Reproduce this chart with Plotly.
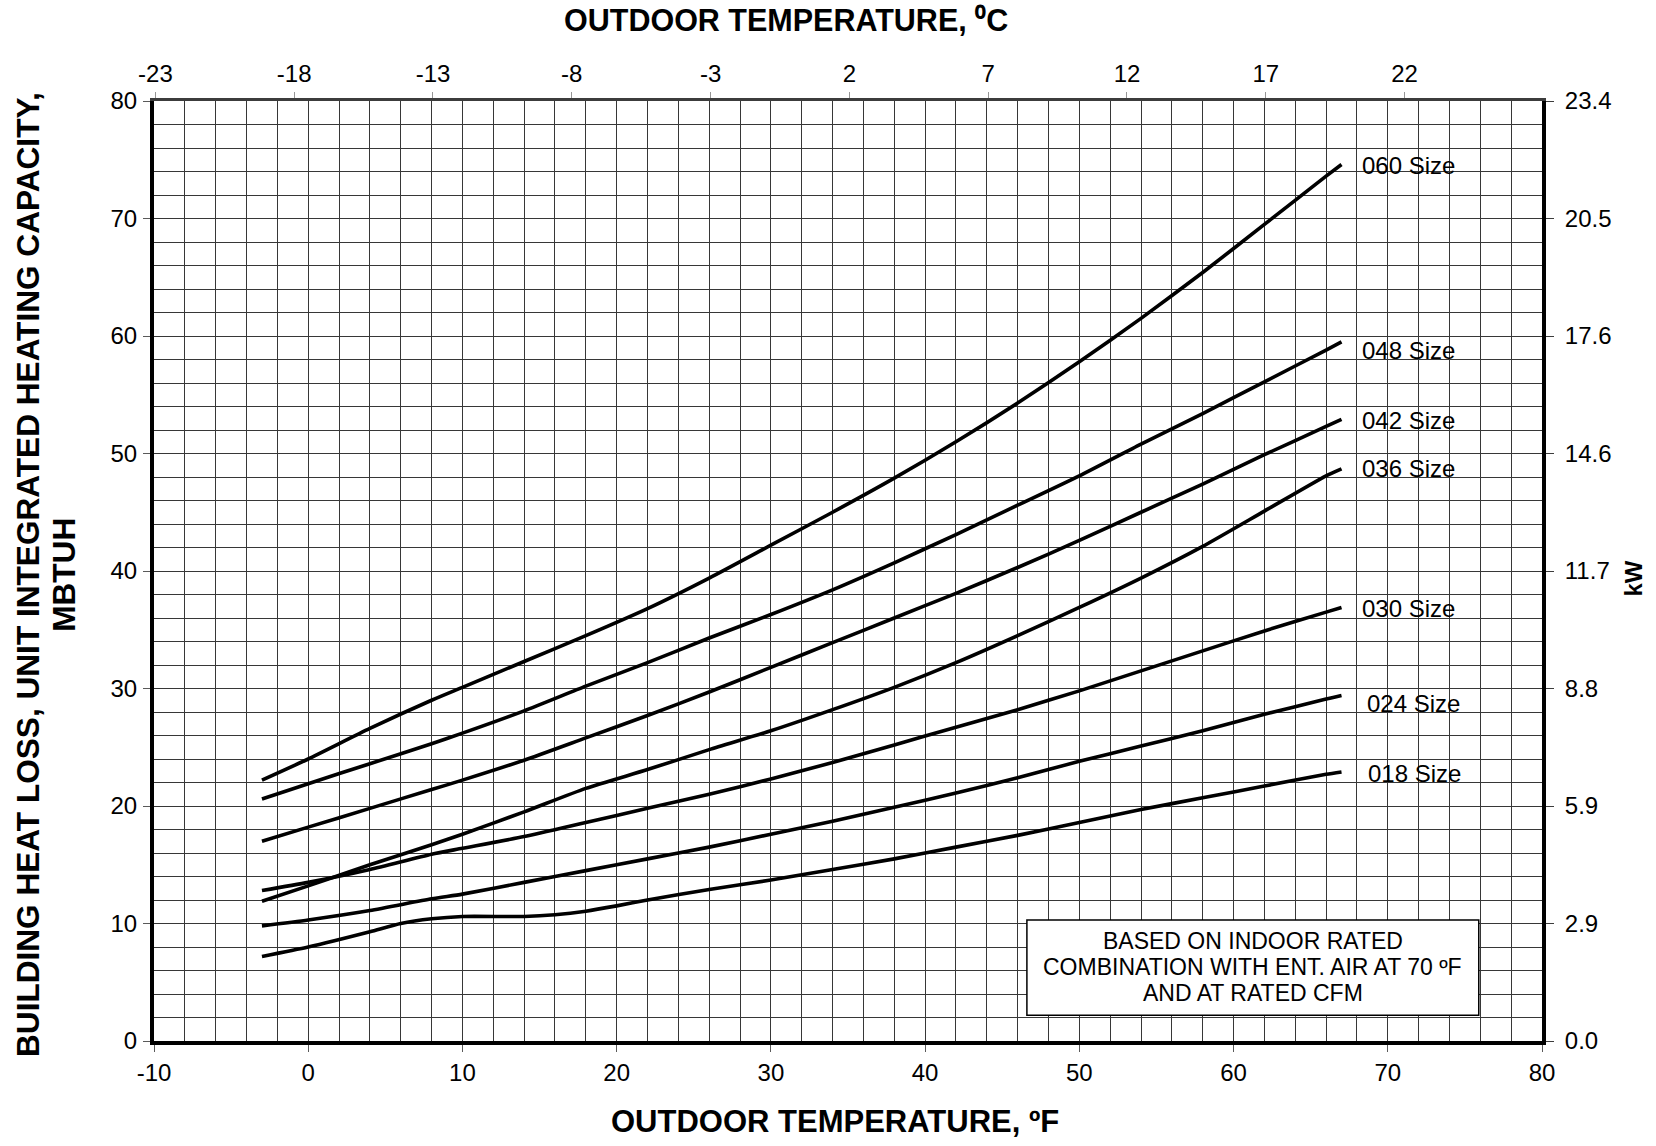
import plotly.graph_objects as go

# ---------------- data ----------------
temp_f = [-3, 0, 4, 8, 10, 14, 18, 22, 26, 30, 34, 38, 42, 46, 50, 54, 58, 62, 66, 67]
cap_060 = [22.2, 24.0, 26.6, 29.0, 30.1, 32.3, 34.5, 36.8, 39.4, 42.2, 45.0, 47.9, 51.0, 54.3, 57.8, 61.5, 65.4, 69.5, 73.6, 74.6]
cap_048 = [20.6, 21.9, 23.6, 25.3, 26.2, 28.1, 30.2, 32.2, 34.3, 36.3, 38.4, 40.7, 43.1, 45.6, 48.1, 50.8, 53.4, 56.1, 58.8, 59.5]
cap_042 = [17.0, 18.2, 19.8, 21.4, 22.2, 23.9, 25.8, 27.7, 29.7, 31.8, 33.9, 36.0, 38.1, 40.3, 42.6, 45.0, 47.4, 49.9, 52.3, 52.9]
cap_036 = [11.9, 13.2, 15.0, 16.7, 17.6, 19.5, 21.5, 23.1, 24.8, 26.4, 28.2, 30.1, 32.2, 34.5, 36.9, 39.4, 42.1, 45.1, 48.1, 48.7]
cap_030 = [12.8, 13.5, 14.6, 15.9, 16.4, 17.4, 18.6, 19.8, 21.0, 22.3, 23.7, 25.2, 26.7, 28.2, 29.8, 31.5, 33.2, 34.9, 36.5, 36.9]
cap_024 = [9.8, 10.3, 11.1, 12.1, 12.5, 13.5, 14.5, 15.5, 16.5, 17.6, 18.7, 19.9, 21.1, 22.4, 23.8, 25.1, 26.4, 27.8, 29.1, 29.4]
temp_f_018 = [-3, 0, 4, 6, 8, 10, 14, 16, 18, 20, 22, 26, 30, 34, 38, 42, 46, 50, 54, 58, 62, 66, 67]
cap_018 = [7.2, 8.0, 9.3, 10.0, 10.4, 10.6, 10.6, 10.75, 11.05, 11.5, 12.0, 12.9, 13.7, 14.6, 15.5, 16.5, 17.5, 18.6, 19.7, 20.7, 21.7, 22.7, 22.9]

series_names = ["060 Size", "048 Size", "042 Size", "036 Size", "030 Size", "024 Size", "018 Size"]
series_values = [cap_060, cap_048, cap_042, cap_036, cap_030, cap_024, cap_018]
series_x = [temp_f, temp_f, temp_f, temp_f, temp_f, temp_f, temp_f_018]
label_y = [74.5, 58.8, 52.8, 48.7, 36.8, 28.7, 22.8]
label_x = [68.2, 68.2, 68.2, 68.2, 68.2, 68.5, 68.6]

x_ticks_f = [-10, 0, 10, 20, 30, 40, 50, 60, 70, 80]
y_ticks = [0, 10, 20, 30, 40, 50, 60, 70, 80]
kw_labels = ["0.0", "2.9", "5.9", "8.8", "11.7", "14.6", "17.6", "20.5", "23.4"]
c_ticks = [-23, -18, -13, -8, -3, 2, 7, 12, 17, 22]
c_range = [-23.05, 26.95]

note_lines = ["BASED ON INDOOR RATED", "COMBINATION WITH ENT. AIR AT 70 ºF", "AND AT RATED CFM"]
note_line_y = [8.5, 6.3, 4.05]

FONT = "Arial, Liberation Sans, sans-serif"
GRID = "rgb(55,55,55)"

fig = go.Figure()
for name, xs, ys in zip(series_names, series_x, series_values):
    fig.add_trace(go.Scatter(x=xs, y=ys, mode="lines", name=name,
                             line=dict(color="black", width=3.6, shape="spline", smoothing=0.6),
                             showlegend=False, hoverinfo="x+y"))

# helper trace to activate the secondary (top / right) axes
fig.add_trace(go.Scatter(x=[c_ticks[0]], y=[y_ticks[0]], xaxis="x2", yaxis="y2",
                         mode="lines", showlegend=False, hoverinfo="skip"))

for name, lx, ly in zip(series_names, label_x, label_y):
    fig.add_annotation(x=lx, y=ly, text=name, showarrow=False, xanchor="left",
                       yanchor="middle", font=dict(family=FONT, size=24, color="black"))

# note box
fig.add_shape(type="rect", x0=46.6, x1=75.9, y0=2.2, y1=10.3, xref="x", yref="y",
              fillcolor="white", line=dict(color="black", width=1.5), layer="above")
for line, ly in zip(note_lines, note_line_y):
    fig.add_annotation(x=61.25, y=ly, text=line, showarrow=False, xanchor="center",
                       yanchor="middle", font=dict(family=FONT, size=23, color="black"))

# axis titles
def title(x, y, text, size, angle=0):
    fig.add_annotation(xref="paper", yref="paper", x=x, y=y, text=text, showarrow=False,
                       xanchor="center", yanchor="middle", textangle=angle, borderpad=0,
                       font=dict(family=FONT, size=size, color="black"))

title(0.4906, -0.0856, "<b>OUTDOOR TEMPERATURE, ºF</b>", 31)
title(0.455, 1.0862, "<b>OUTDOOR TEMPERATURE, ⁰C</b>", 30.5)
title(-0.0904, 0.4963, "<b>BUILDING HEAT LOSS, UNIT INTEGRATED HEATING CAPACITY,</b>", 31.6, -90)
title(-0.0646, 0.4963, "<b>MBTUH</b>", 31.6, -90)
title(1.0656, 0.492, "<b>kW</b>", 24, -90)

fig.update_layout(
    width=1656, height=1146,
    margin=dict(l=154, r=114, t=101, b=105),
    paper_bgcolor="white", plot_bgcolor="white",
    font=dict(family=FONT, size=24, color="black"),
    xaxis=dict(range=[-10, 80], tickvals=x_ticks_f, ticktext=[str(v) for v in x_ticks_f],
               showgrid=True, gridcolor=GRID, gridwidth=1.3,
               minor=dict(dtick=2, showgrid=True, gridcolor=GRID, gridwidth=1.3),
               showline=True, linecolor="black", linewidth=4, ticks="outside", ticklen=7,
               tickcolor="rgb(90,90,90)", zeroline=False, tickfont=dict(size=24),
               ticklabelstandoff=0),
    yaxis=dict(range=[0, 80], tickvals=y_ticks, ticktext=[str(v) for v in y_ticks],
               showgrid=True, gridcolor=GRID, gridwidth=1.3,
               minor=dict(dtick=2, showgrid=True, gridcolor=GRID, gridwidth=1.3),
               showline=True, linecolor="black", linewidth=4, ticks="outside", ticklen=7,
               tickcolor="rgb(90,90,90)", zeroline=False, tickfont=dict(size=24),
               ticklabelstandoff=1),
    xaxis2=dict(range=c_range, tickvals=c_ticks, ticktext=[str(c) for c in c_ticks],
                overlaying="x", side="top", anchor="y", showgrid=False, zeroline=False,
                showline=True, linecolor="rgb(60,60,60)", linewidth=3,
                ticks="outside", ticklen=6, tickcolor="rgb(150,150,150)", tickfont=dict(size=24),
                ticklabelstandoff=0),
    yaxis2=dict(range=[0, 80], tickvals=y_ticks, ticktext=kw_labels, overlaying="y",
                side="right", anchor="x", showgrid=False, zeroline=False,
                showline=True, linecolor="black", linewidth=4,
                ticks="outside", ticklen=8, tickcolor="rgb(60,60,60)", tickfont=dict(size=24),
                ticklabelstandoff=6),
)

# place the figure flush with the page corner (no default body margin), no modebar
fig.write_html("out.html", config={"displayModeBar": False},
               post_script="document.body.style.margin='0';document.body.style.overflow='hidden';")
